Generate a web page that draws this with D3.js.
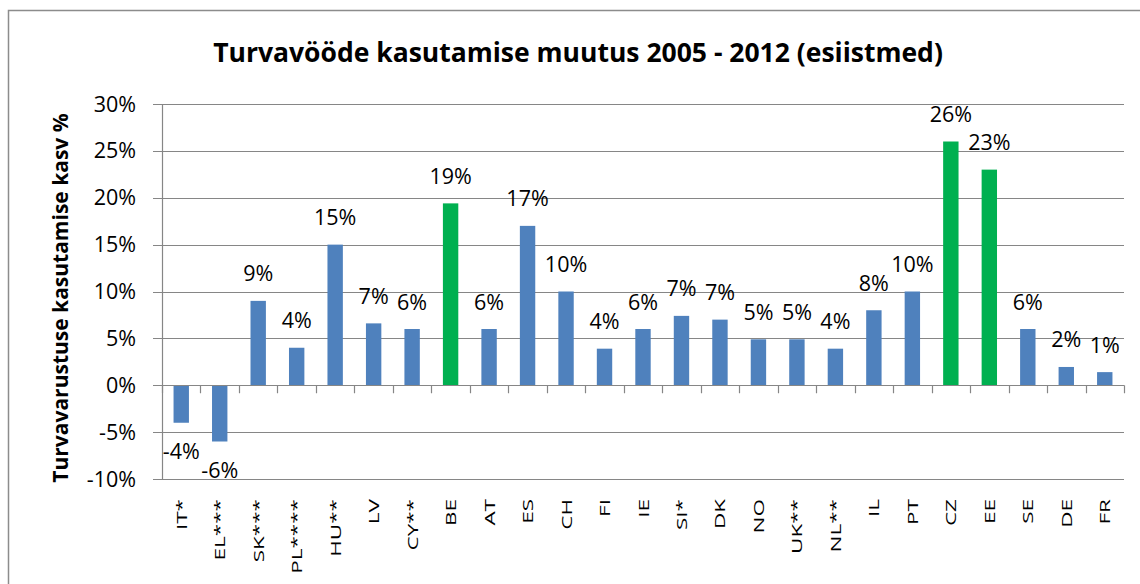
<!DOCTYPE html>
<html>
<head>
<meta charset="utf-8">
<script src="https://cdn.jsdelivr.net/npm/d3@7"></script>
<style>
  body { margin: 0; background: #fff; }
  text { font-family: "Open Sans", sans-serif; fill: #000; }
</style>
</head>
<body>
<svg id="chart" width="1140" height="584"></svg>
<script>
// riigid ja turvavööde kasutamise kasv (%), loetud pildilt
var countries = ['IT*', 'EL***', 'SK***', 'PL****', 'HU**', 'LV', 'CY**', 'BE', 'AT', 'ES', 'CH', 'FI', 'IE',
                 'SI*', 'DK', 'NO', 'UK**', 'NL**', 'IL', 'PT', 'CZ', 'EE', 'SE', 'DE', 'FR']
var growth = [-4, -6, 9, 4, 15, 6.6, 6, 19.4, 6, 17, 10, 3.9, 6,
              7.4, 7, 4.9, 4.9, 3.9, 8, 10, 26, 23, 6, 1.95, 1.4]
var highlighted = ['BE', 'CZ', 'EE']
var yTicks = [-10, -5, 0, 5, 10, 15, 20, 25, 30]

var title = 'Turvavööde kasutamise muutus 2005 - 2012 (esiistmed)'
  , yTitle = 'Turvavarustuse kasutamise kasv %'

var data = countries.map(function (c, i) { return { c: c, v: growth[i] } })

var svg = d3.select('#chart')
var x0 = 162, x1 = 1124, yTop = 104, yBottom = 479

// raam
svg.append('rect')
  .attr('x', 8.5).attr('y', 10.5)
  .attr('width', 1200).attr('height', 700)
  .attr('fill', 'none').attr('stroke', '#8c8c8c').attr('stroke-width', 1.5)

var x = d3.scaleBand().domain(countries).range([x0, x1])
          .paddingInner(0.6).paddingOuter(0.3)
var y = d3.scaleLinear().domain([-10, 30]).range([yBottom, yTop])

// ruudustik
svg.append('g').selectAll('line').data(yTicks)
  .enter().append('line')
  .attr('x1', x0 - 9).attr('x2', x1)
  .attr('y1', function (d) { return Math.round(y(d)) + .5 })
  .attr('y2', function (d) { return Math.round(y(d)) + .5 })
  .attr('stroke', '#868686').attr('stroke-width', 1.2)

svg.append('g').selectAll('text').data(yTicks)
  .enter().append('text')
  .attr('x', 136).attr('y', function (d) { return y(d) + 7.5 })
  .attr('text-anchor', 'end')
  .style('font-size', '21.5px')
  .text(function (d) { return d + '%' })

// y telg
svg.append('line')
  .attr('x1', x0 + .5).attr('x2', x0 + .5)
  .attr('y1', yTop).attr('y2', yBottom + .5)
  .attr('stroke', '#868686').attr('stroke-width', 1.2)

// tulbad
svg.append('g').selectAll('rect').data(data)
  .enter().append('rect')
  .attr('x', function (d) { return x(d.c) })
  .attr('width', x.bandwidth())
  .attr('y', function (d) { return y(Math.max(0, d.v)) })
  .attr('height', function (d) { return Math.abs(y(d.v) - y(0)) })
  .attr('fill', function (d) { return highlighted.indexOf(d.c) >= 0 ? '#00B050' : '#4F81BD' })

// x telg nulli kohal
var step = x.step()
svg.append('g').selectAll('line').data(d3.range(countries.length + 1))
  .enter().append('line')
  .attr('x1', function (i) { return Math.round(x0 + i * step) + .5 })
  .attr('x2', function (i) { return Math.round(x0 + i * step) + .5 })
  .attr('y1', y(0)).attr('y2', y(0) + 8)
  .attr('stroke', '#868686').attr('stroke-width', 1.2)

svg.append('line')
  .attr('x1', x0).attr('x2', x1)
  .attr('y1', Math.round(y(0)) + .5).attr('y2', Math.round(y(0)) + .5)
  .attr('stroke', '#868686').attr('stroke-width', 1.2)

// väärtuste sildid
svg.append('g').selectAll('text').data(data)
  .enter().append('text')
  .attr('x', function (d) { return x(d.c) + x.bandwidth() / 2 })
  .attr('y', function (d) { return d.v >= 0 ? y(d.v) - 19.5 : y(d.v) + 36.5 })
  .attr('text-anchor', 'middle')
  .style('font-size', '21.5px')
  .text(function (d) { return Math.round(d.v) + '%' })

// kategooriate sildid
svg.append('g').selectAll('text').data(data)
  .enter().append('text')
  .attr('transform', function (d) {
    return 'translate(' + (x(d.c) + x.bandwidth() / 2 + 5.5) + ',499) rotate(-90) scale(1.5,1)'
  })
  .attr('text-anchor', 'end')
  .style('font-size', '15px')
  .text(function (d) { return d.c })

// pealkirjad
svg.append('text')
  .attr('x', 578).attr('y', 62)
  .attr('text-anchor', 'middle')
  .style('font-size', '26.5px').style('font-weight', 'bold')
  .text(title)

svg.append('text')
  .attr('transform', 'translate(68,298) rotate(-90)')
  .attr('text-anchor', 'middle')
  .style('font-size', '21px').style('font-weight', 'bold')
  .text(yTitle)
</script>
</body>
</html>
